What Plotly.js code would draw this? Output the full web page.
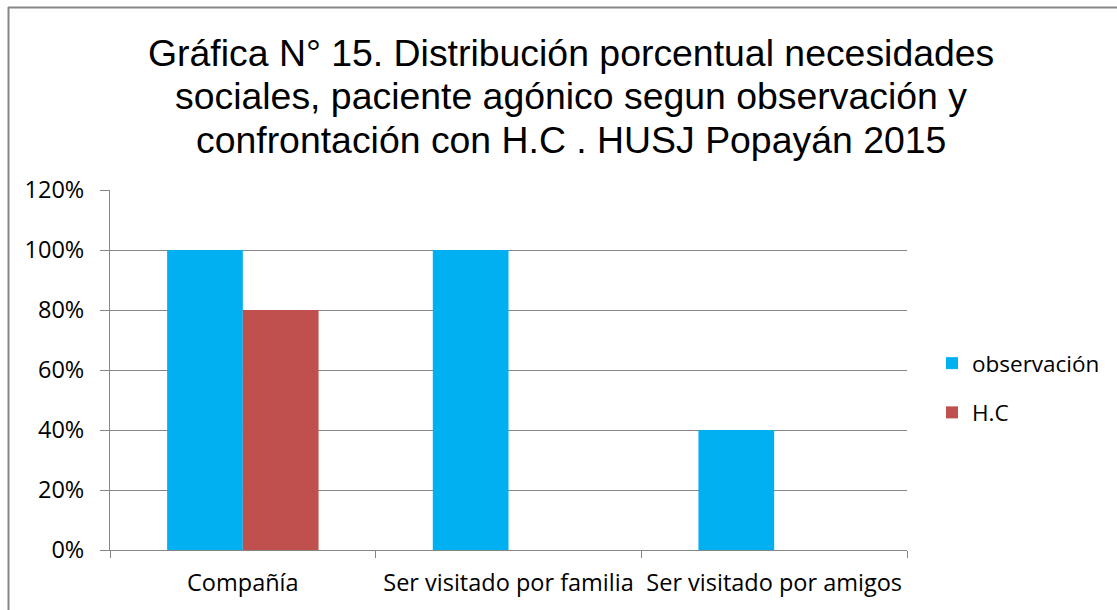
<!DOCTYPE html>
<html>
<head>
<meta charset="utf-8">
<script src="https://cdn.plot.ly/plotly-3.0.1.min.js"></script>
<style>html,body{margin:0;padding:0;background:#fff;}#chart{width:1117px;height:610px;}</style>
</head>
<body>
<div id="chart"></div>
<script>
var categories = ["Compañía", "Ser visitado por familia", "Ser visitado por amigos"];
var observacion = [1.0, 1.0, 0.4];
var hc = [0.8, 0, 0];
var seriesNames = ["observación", "H.C"];
var titleLines = [
  "Gráfica N° 15. Distribución porcentual necesidades",
  "sociales, paciente agónico segun observación y",
  "confrontación con H.C . HUSJ Popayán 2015"
];
var yTickVals = [0, 0.2, 0.4, 0.6, 0.8, 1.0, 1.2];
var yTickText = ["0%", "20%", "40%", "60%", "80%", "100%", "120%"];

var W = 1117, H = 610;
var L = 110, R = 210, T = 190, B = 60;
var pw = W - L - R, ph = H - T - B;
function px(x){ return (x - L) / pw; }
function py(y){ return (H - B - y) / ph; }

var gray = "#868686";
var tickFont = {family: "Open Sans", size: 23.5, color: "#000"};
var legendFont = {family: "Open Sans", size: 22.5, color: "#000"};

var traces = [
  {type: "bar", x: categories, y: observacion, name: seriesNames[0],
   marker: {color: "#00B0F0"}, legendgroup: "a", hoverinfo: "none"},
  {type: "bar", x: categories, y: hc, name: seriesNames[1],
   marker: {color: "#C0504D"}, legendgroup: "b", hoverinfo: "none"}
];

var titleCenters = [52.5, 96, 139.5];
var annotations = titleLines.map(function(t, i){
  return {text: t, xref: "paper", yref: "paper", x: px(571), y: py(titleCenters[i]),
    xanchor: "center", yanchor: "middle", showarrow: false,
    font: {family: "Liberation Sans, Arial, sans-serif", size: 37.4, color: "#000"}};
});

var layout = {
  width: W, height: H,
  margin: {l: L, r: R, t: T, b: B, pad: 0},
  paper_bgcolor: "#fff", plot_bgcolor: "#fff",
  barmode: "group", bargap: 0.43, bargroupgap: 0,
  showlegend: true,
  legend: {x: px(932), y: py(388), xanchor: "left", yanchor: "middle",
    font: legendFont, tracegroupgap: 17, bgcolor: "rgba(0,0,0,0)", borderwidth: 0},
  xaxis: {type: "category", tickson: "boundaries", ticks: "outside", ticklen: 7,
    tickcolor: gray, tickwidth: 1, showgrid: false, showline: true, linecolor: gray,
    linewidth: 1, tickfont: tickFont, tickangle: 0, automargin: false,
    ticklabelstandoff: 12, fixedrange: true},
  yaxis: {range: [0, 1.2], tickvals: yTickVals, ticktext: yTickText, ticks: "outside",
    ticklen: 9, tickcolor: gray, tickwidth: 1, showgrid: true, gridcolor: gray,
    gridwidth: 1, showline: true, linecolor: gray, linewidth: 1, zeroline: false,
    tickfont: tickFont, ticklabelstandoff: 11, automargin: false, fixedrange: true},
  annotations: annotations,
  shapes: [
    {type: "line", xref: "paper", yref: "paper", x0: px(8), x1: px(1117), y0: py(7.5), y1: py(7.5),
     line: {color: gray, width: 2}},
    {type: "line", xref: "paper", yref: "paper", x0: px(8.5), x1: px(8.5), y0: py(7), y1: py(610),
     line: {color: gray, width: 2}}
  ]
};

Plotly.newPlot("chart", traces, layout, {staticPlot: true, displayModeBar: false});
</script>
</body>
</html>
